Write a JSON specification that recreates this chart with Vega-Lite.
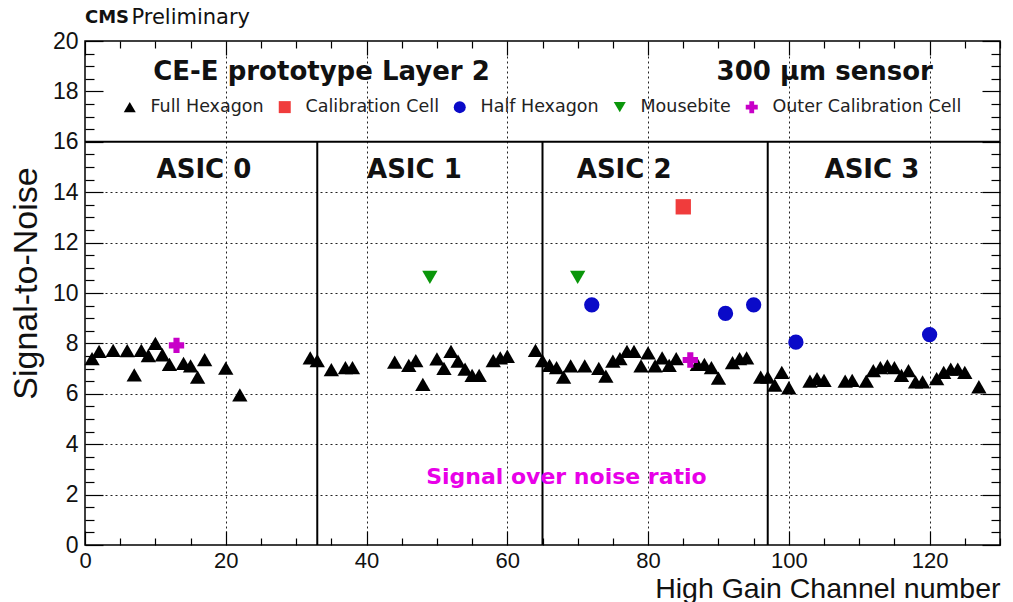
{
  "$schema": "https://vega.github.io/schema/vega-lite/v6.json",
  "width": 915,
  "height": 504,
  "autosize": "none",
  "padding": {"left": 85, "top": 41, "right": 13, "bottom": 57},
  "background": "white",
  "datasets": {
    "cells": [
      {"ch": 1, "sn": 7.40, "type": "Full Hexagon"},
      {"ch": 2, "sn": 7.68, "type": "Full Hexagon"},
      {"ch": 4, "sn": 7.72, "type": "Full Hexagon"},
      {"ch": 6, "sn": 7.71, "type": "Full Hexagon"},
      {"ch": 7, "sn": 6.75, "type": "Full Hexagon"},
      {"ch": 8, "sn": 7.72, "type": "Full Hexagon"},
      {"ch": 9, "sn": 7.52, "type": "Full Hexagon"},
      {"ch": 10, "sn": 8.0, "type": "Full Hexagon"},
      {"ch": 11, "sn": 7.55, "type": "Full Hexagon"},
      {"ch": 12, "sn": 7.17, "type": "Full Hexagon"},
      {"ch": 14, "sn": 7.21, "type": "Full Hexagon"},
      {"ch": 15, "sn": 7.11, "type": "Full Hexagon"},
      {"ch": 16, "sn": 6.66, "type": "Full Hexagon"},
      {"ch": 17, "sn": 7.36, "type": "Full Hexagon"},
      {"ch": 20, "sn": 7.02, "type": "Full Hexagon"},
      {"ch": 22, "sn": 5.96, "type": "Full Hexagon"},
      {"ch": 32, "sn": 7.43, "type": "Full Hexagon"},
      {"ch": 33, "sn": 7.32, "type": "Full Hexagon"},
      {"ch": 35, "sn": 6.96, "type": "Full Hexagon"},
      {"ch": 37, "sn": 7.04, "type": "Full Hexagon"},
      {"ch": 38, "sn": 7.04, "type": "Full Hexagon"},
      {"ch": 44, "sn": 7.26, "type": "Full Hexagon"},
      {"ch": 46, "sn": 7.13, "type": "Full Hexagon"},
      {"ch": 47, "sn": 7.32, "type": "Full Hexagon"},
      {"ch": 48, "sn": 6.37, "type": "Full Hexagon"},
      {"ch": 50, "sn": 7.39, "type": "Full Hexagon"},
      {"ch": 51, "sn": 7.01, "type": "Full Hexagon"},
      {"ch": 52, "sn": 7.68, "type": "Full Hexagon"},
      {"ch": 53, "sn": 7.30, "type": "Full Hexagon"},
      {"ch": 54, "sn": 6.98, "type": "Full Hexagon"},
      {"ch": 55, "sn": 6.73, "type": "Full Hexagon"},
      {"ch": 56, "sn": 6.73, "type": "Full Hexagon"},
      {"ch": 58, "sn": 7.32, "type": "Full Hexagon"},
      {"ch": 59, "sn": 7.43, "type": "Full Hexagon"},
      {"ch": 60, "sn": 7.49, "type": "Full Hexagon"},
      {"ch": 64, "sn": 7.72, "type": "Full Hexagon"},
      {"ch": 65, "sn": 7.32, "type": "Full Hexagon"},
      {"ch": 66, "sn": 7.13, "type": "Full Hexagon"},
      {"ch": 67, "sn": 7.04, "type": "Full Hexagon"},
      {"ch": 68, "sn": 6.66, "type": "Full Hexagon"},
      {"ch": 69, "sn": 7.11, "type": "Full Hexagon"},
      {"ch": 71, "sn": 7.11, "type": "Full Hexagon"},
      {"ch": 73, "sn": 7.01, "type": "Full Hexagon"},
      {"ch": 74, "sn": 6.70, "type": "Full Hexagon"},
      {"ch": 75, "sn": 7.30, "type": "Full Hexagon"},
      {"ch": 76, "sn": 7.40, "type": "Full Hexagon"},
      {"ch": 77, "sn": 7.68, "type": "Full Hexagon"},
      {"ch": 78, "sn": 7.68, "type": "Full Hexagon"},
      {"ch": 79, "sn": 7.11, "type": "Full Hexagon"},
      {"ch": 80, "sn": 7.62, "type": "Full Hexagon"},
      {"ch": 81, "sn": 7.11, "type": "Full Hexagon"},
      {"ch": 82, "sn": 7.43, "type": "Full Hexagon"},
      {"ch": 83, "sn": 7.13, "type": "Full Hexagon"},
      {"ch": 84, "sn": 7.40, "type": "Full Hexagon"},
      {"ch": 87, "sn": 7.17, "type": "Full Hexagon"},
      {"ch": 88, "sn": 7.17, "type": "Full Hexagon"},
      {"ch": 89, "sn": 7.04, "type": "Full Hexagon"},
      {"ch": 90, "sn": 6.62, "type": "Full Hexagon"},
      {"ch": 92, "sn": 7.24, "type": "Full Hexagon"},
      {"ch": 93, "sn": 7.40, "type": "Full Hexagon"},
      {"ch": 94, "sn": 7.43, "type": "Full Hexagon"},
      {"ch": 96, "sn": 6.66, "type": "Full Hexagon"},
      {"ch": 97, "sn": 6.66, "type": "Full Hexagon"},
      {"ch": 98, "sn": 6.34, "type": "Full Hexagon"},
      {"ch": 99, "sn": 6.85, "type": "Full Hexagon"},
      {"ch": 100, "sn": 6.24, "type": "Full Hexagon"},
      {"ch": 103, "sn": 6.50, "type": "Full Hexagon"},
      {"ch": 104, "sn": 6.60, "type": "Full Hexagon"},
      {"ch": 105, "sn": 6.53, "type": "Full Hexagon"},
      {"ch": 108, "sn": 6.50, "type": "Full Hexagon"},
      {"ch": 109, "sn": 6.53, "type": "Full Hexagon"},
      {"ch": 111, "sn": 6.50, "type": "Full Hexagon"},
      {"ch": 112, "sn": 6.92, "type": "Full Hexagon"},
      {"ch": 113, "sn": 7.04, "type": "Full Hexagon"},
      {"ch": 114, "sn": 7.11, "type": "Full Hexagon"},
      {"ch": 115, "sn": 7.04, "type": "Full Hexagon"},
      {"ch": 116, "sn": 6.73, "type": "Full Hexagon"},
      {"ch": 117, "sn": 6.92, "type": "Full Hexagon"},
      {"ch": 118, "sn": 6.47, "type": "Full Hexagon"},
      {"ch": 119, "sn": 6.47, "type": "Full Hexagon"},
      {"ch": 121, "sn": 6.60, "type": "Full Hexagon"},
      {"ch": 122, "sn": 6.85, "type": "Full Hexagon"},
      {"ch": 123, "sn": 6.98, "type": "Full Hexagon"},
      {"ch": 124, "sn": 6.98, "type": "Full Hexagon"},
      {"ch": 125, "sn": 6.85, "type": "Full Hexagon"},
      {"ch": 127, "sn": 6.28, "type": "Full Hexagon"},
      {"ch": 85, "sn": 13.42, "type": "Calibration Cell"},
      {"ch": 72, "sn": 9.53, "type": "Half Hexagon"},
      {"ch": 91, "sn": 9.19, "type": "Half Hexagon"},
      {"ch": 95, "sn": 9.53, "type": "Half Hexagon"},
      {"ch": 101, "sn": 8.05, "type": "Half Hexagon"},
      {"ch": 120, "sn": 8.35, "type": "Half Hexagon"},
      {"ch": 49, "sn": 10.62, "type": "Mousebite"},
      {"ch": 70, "sn": 10.62, "type": "Mousebite"},
      {"ch": 13, "sn": 7.92, "type": "Outer Calibration Cell"},
      {"ch": 86, "sn": 7.34, "type": "Outer Calibration Cell"}
    ],
    "asicEdges": [{"edge": 33}, {"edge": 65}, {"edge": 97}],
    "asicNames": [
      {"name": "ASIC 0", "ch": 16.9},
      {"name": "ASIC 1", "ch": 46.8},
      {"name": "ASIC 2", "ch": 76.6},
      {"name": "ASIC 3", "ch": 111.8}
    ]
  },
  "layer": [
    {
      "data": {"name": "asicEdges"},
      "mark": {"type": "rule", "color": "black", "strokeWidth": 2},
      "encoding": {
        "x": {
          "field": "edge", "type": "quantitative",
          "scale": {"domain": [0, 130], "nice": false, "zero": false},
          "axis": {
            "orient": "top", "title": null, "labels": false, "domain": false, "grid": false,
            "values": [0,5,10,15,20,25,30,35,40,45,50,55,60,65,70,75,80,85,90,95,100,105,110,115,120,125,130],
            "tickColor": "black", "tickWidth": 1.2,
            "tickSize": {"condition": {"test": "datum.value % 20 === 0", "value": -14}, "value": -7}
          }
        },
        "y": {
          "datum": 0, "type": "quantitative",
          "scale": {"domain": [0, 20], "nice": false, "zero": false},
          "axis": {
            "orient": "right", "title": null, "labels": false, "domain": false, "grid": false,
            "values": [0,0.5,1,1.5,2,2.5,3,3.5,4,4.5,5,5.5,6,6.5,7,7.5,8,8.5,9,9.5,10,10.5,11,11.5,12,12.5,13,13.5,14,14.5,15,15.5,16,16.5,17,17.5,18,18.5,19,19.5,20],
            "tickColor": "black", "tickWidth": 1.2,
            "tickSize": {"condition": {"test": "datum.value % 2 === 0", "value": -18}, "value": -9}
          }
        },
        "y2": {"datum": 16}
      }
    },
    {
      "data": {"values": [{}]},
      "mark": {"type": "rule", "color": "black", "strokeWidth": 2},
      "encoding": {
        "x": {"datum": 0, "type": "quantitative", "scale": {"domain": [0, 130], "nice": false, "zero": false}, "axis": null},
        "x2": {"datum": 130},
        "y": {"datum": 16, "type": "quantitative", "scale": {"domain": [0, 20], "nice": false, "zero": false}, "axis": null}
      }
    },
    {
      "data": {"name": "cells"},
      "mark": {"type": "point", "filled": true, "opacity": 1, "size": 235},
      "encoding": {
        "x": {
          "field": "ch", "type": "quantitative",
          "scale": {"domain": [0, 130], "nice": false, "zero": false},
          "axis": {
            "orient": "bottom",
            "title": "High Gain Channel number",
            "titleFont": "Liberation Sans", "titleFontSize": 28.5, "titleFontWeight": "normal", "titleColor": "#111",
            "titleAnchor": "end", "titleAlign": "right", "titleBaseline": "alphabetic", "titleX": 915, "titleY": 52,
            "values": [0,5,10,15,20,25,30,35,40,45,50,55,60,65,70,75,80,85,90,95,100,105,110,115,120,125,130],
            "labelExpr": "datum.value % 20 === 0 ? format(datum.value, 'd') : ''",
            "labelFont": "Liberation Sans", "labelFontSize": 22, "labelColor": "#111",
            "labelFlush": false, "labelOverlap": false, "labelPadding": 19,
            "domain": false,
            "tickColor": "black", "tickWidth": 1.2,
            "tickSize": {"condition": {"test": "datum.value % 20 === 0", "value": -14}, "value": -7},
            "grid": true,
            "gridColor": "#222", "gridDash": [2, 3], "gridWidth": 1,
            "gridOpacity": {"condition": {"test": "datum.value % 20 === 0 && datum.value > 0 && datum.value < 130", "value": 1}, "value": 0}
          }
        },
        "y": {
          "field": "sn", "type": "quantitative",
          "scale": {"domain": [0, 20], "nice": false, "zero": false},
          "axis": {
            "orient": "left",
            "title": "Signal-to-Noise",
            "titleFont": "Liberation Sans", "titleFontSize": 34, "titleFontWeight": "normal", "titleColor": "#111",
            "titleAngle": -90, "titleAlign": "center", "titleBaseline": "alphabetic", "titleX": -49, "titleY": 242,
            "values": [0,0.5,1,1.5,2,2.5,3,3.5,4,4.5,5,5.5,6,6.5,7,7.5,8,8.5,9,9.5,10,10.5,11,11.5,12,12.5,13,13.5,14,14.5,15,15.5,16,16.5,17,17.5,18,18.5,19,19.5,20],
            "labelExpr": "datum.value % 2 === 0 ? format(datum.value, 'd') : ''",
            "labelFont": "Liberation Sans", "labelFontSize": 23, "labelColor": "#111",
            "labelFlush": false, "labelOverlap": false, "labelPadding": 25,
            "domain": false,
            "tickColor": "black", "tickWidth": 1.2,
            "tickSize": {"condition": {"test": "datum.value % 2 === 0", "value": -18}, "value": -9},
            "grid": true,
            "gridColor": "#222", "gridDash": [2, 3], "gridWidth": 1,
            "gridOpacity": {"condition": {"test": "datum.value % 2 === 0 && datum.value > 0 && datum.value < 16", "value": 1}, "value": 0}
          }
        },
        "color": {
          "field": "type", "type": "nominal",
          "scale": {
            "domain": ["Full Hexagon", "Calibration Cell", "Half Hexagon", "Mousebite", "Outer Calibration Cell"],
            "range": ["#000000", "#f03c3c", "#0a0ac8", "#0a960a", "#c800c8"]
          },
          "legend": {"orient": "none", "legendX": 36, "legendY": 57, "direction": "horizontal", "title": null}
        },
        "shape": {
          "field": "type", "type": "nominal",
          "scale": {
            "domain": ["Full Hexagon", "Calibration Cell", "Half Hexagon", "Mousebite", "Outer Calibration Cell"],
            "range": ["triangle-up", "square", "circle", "triangle-down", "cross"]
          },
          "legend": {"orient": "none", "legendX": 36, "legendY": 57, "direction": "horizontal", "title": null}
        }
      }
    },
    {
      "data": {"name": "asicNames"},
      "mark": {"type": "text", "font": "DejaVu Sans", "fontWeight": "bold", "fontSize": 26, "color": "#111", "align": "center", "baseline": "middle"},
      "encoding": {
        "x": {"field": "ch", "type": "quantitative", "scale": {"domain": [0, 130], "nice": false, "zero": false}, "axis": null},
        "y": {"datum": 14.9, "type": "quantitative", "scale": {"domain": [0, 20], "nice": false, "zero": false}, "axis": null},
        "text": {"field": "name"}
      }
    },
    {
      "data": {"values": [{}]},
      "mark": {"type": "text", "text": "CE-E prototype Layer 2", "font": "DejaVu Sans", "fontWeight": "bold", "fontSize": 26, "color": "#111", "align": "center", "baseline": "middle"},
      "encoding": {
        "x": {"datum": 33.6, "type": "quantitative", "scale": {"domain": [0, 130], "nice": false, "zero": false}, "axis": null},
        "y": {"datum": 18.78, "type": "quantitative", "scale": {"domain": [0, 20], "nice": false, "zero": false}, "axis": null}
      }
    },
    {
      "data": {"values": [{}]},
      "mark": {"type": "text", "text": "300 μm sensor", "font": "DejaVu Sans", "fontWeight": "bold", "fontSize": 26, "color": "#111", "align": "center", "baseline": "middle"},
      "encoding": {
        "x": {"datum": 105.1, "type": "quantitative", "scale": {"domain": [0, 130], "nice": false, "zero": false}, "axis": null},
        "y": {"datum": 18.78, "type": "quantitative", "scale": {"domain": [0, 20], "nice": false, "zero": false}, "axis": null}
      }
    },
    {
      "data": {"values": [{}]},
      "mark": {"type": "text", "text": "Signal over noise ratio", "font": "DejaVu Sans", "fontWeight": "bold", "fontSize": 22, "color": "#e800e8", "align": "center", "baseline": "middle"},
      "encoding": {
        "x": {"datum": 68.4, "type": "quantitative", "scale": {"domain": [0, 130], "nice": false, "zero": false}, "axis": null},
        "y": {"datum": 2.7, "type": "quantitative", "scale": {"domain": [0, 20], "nice": false, "zero": false}, "axis": null}
      }
    },
    {
      "data": {"values": [{}]},
      "mark": {"type": "text", "text": "CMS", "font": "DejaVu Sans", "fontWeight": "bold", "fontSize": 18, "color": "#111", "align": "left", "baseline": "middle"},
      "encoding": {
        "x": {"datum": 0, "type": "quantitative", "scale": {"domain": [0, 130], "nice": false, "zero": false}, "axis": null},
        "y": {"datum": 20.93, "type": "quantitative", "scale": {"domain": [0, 20], "nice": false, "zero": false}, "axis": null}
      }
    },
    {
      "data": {"values": [{}]},
      "mark": {"type": "text", "text": "Preliminary", "font": "DejaVu Sans", "fontSize": 21, "color": "#111", "align": "left", "baseline": "middle"},
      "encoding": {
        "x": {"datum": 6.6, "type": "quantitative", "scale": {"domain": [0, 130], "nice": false, "zero": false}, "axis": null},
        "y": {"datum": 20.93, "type": "quantitative", "scale": {"domain": [0, 20], "nice": false, "zero": false}, "axis": null}
      }
    }
  ],
  "resolve": {"axis": {"x": "independent", "y": "independent"}},
  "config": {
    "view": {"stroke": "black", "strokeWidth": 1.5},
    "legend": {
      "labelFont": "DejaVu Sans", "labelFontSize": 17.5, "labelColor": "#222",
      "symbolSize": 144, "symbolStrokeWidth": 0,
      "labelOffset": 12, "columnPadding": 12, "padding": 0, "labelLimit": 400
    }
  }
}
